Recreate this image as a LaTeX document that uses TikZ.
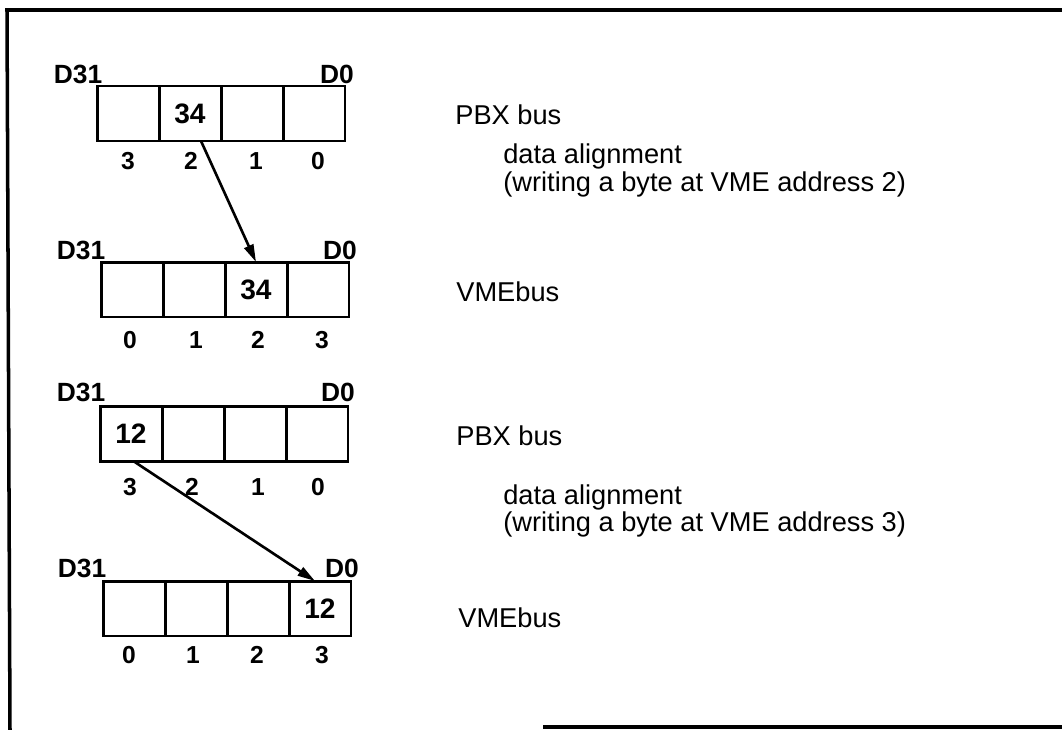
\documentclass[tikz,border=0pt]{standalone}
\usepackage{fontspec}
\setmainfont{Liberation Sans}
\usetikzlibrary{arrows.meta}

\tikzset{
  frame/.style={line width=2pt},
  cell/.style={draw, line width=1.7pt, minimum width=1.24cm, minimum height=1.1cm,
               inner sep=0pt, outer sep=0pt, font=\fontsize{16}{18}\selectfont\bfseries},
  lane/.style={font=\fontsize{14}{16}\selectfont\bfseries},
  bitname/.style={font=\fontsize{15}{17}\selectfont\bfseries},
  busname/.style={anchor=west, inner sep=0pt, font=\fontsize{15.5}{17}\selectfont},
  note/.style={anchor=west, align=left, inner sep=0pt, font=\fontsize{15.5}{14.3}\selectfont},
  move/.style={line width=1.5pt, -{Triangle[length=10pt, width=5.5pt]}}
}

\begin{document}
\begin{tikzpicture}[x=0.02cm, y=-0.02cm]
  \useasboundingbox (0,0) rectangle (1062,730);

  % Frame (open on the right, as scanned)
  \draw[frame] (1062,10) -- (7,10) -- (10,730);
  \draw[frame] (543,727) -- (1062,727);

  % First write: PBX bus
  \node[bitname] (pbxA-hi) at (78,74) {D31};
  \node[bitname] (pbxA-lo) at (337,74) {D0};
  \node[cell] (pbxA-3) at (128,113.5) {};
  \node[cell] (pbxA-2) at (190,113.5) {34};
  \node[cell] (pbxA-1) at (252,113.5) {};
  \node[cell] (pbxA-0) at (314,113.5) {};
  \node[lane] at (128,161) {3};
  \node[lane] at (191,161) {2};
  \node[lane] at (256,161) {1};
  \node[lane] at (318,161) {0};

  % First write: VMEbus
  \node[bitname] (vmeA-hi) at (81,250) {D31};
  \node[bitname] (vmeA-lo) at (340,250) {D0};
  \node[cell] (vmeA-0) at (132,289.5) {};
  \node[cell] (vmeA-1) at (194,289.5) {};
  \node[cell] (vmeA-2) at (256,289.5) {34};
  \node[cell] (vmeA-3) at (318,289.5) {};
  \node[lane] at (130,340) {0};
  \node[lane] at (196,340) {1};
  \node[lane] at (258,340) {2};
  \node[lane] at (322,340) {3};

  % Second write: PBX bus
  \node[bitname] (pbxB-hi) at (81,392) {D31};
  \node[bitname] (pbxB-lo) at (338,392) {D0};
  \node[cell] (pbxB-3) at (131,434) {12};
  \node[cell] (pbxB-2) at (193,434) {};
  \node[cell] (pbxB-1) at (255,434) {};
  \node[cell] (pbxB-0) at (317,434) {};
  \node[lane] at (130,487) {3};
  \node[lane] at (192,487) {2};
  \node[lane] at (258,487) {1};
  \node[lane] at (318,487) {0};

  % Second write: VMEbus
  \node[bitname] (vmeB-hi) at (82,568) {D31};
  \node[bitname] (vmeB-lo) at (342,568) {D0};
  \node[cell] (vmeB-0) at (134,608.5) {};
  \node[cell] (vmeB-1) at (196,608.5) {};
  \node[cell] (vmeB-2) at (258,608.5) {};
  \node[cell] (vmeB-3) at (320,608.5) {12};
  \node[lane] at (129,655) {0};
  \node[lane] at (193,655) {1};
  \node[lane] at (257,655) {2};
  \node[lane] at (322,655) {3};

  % Byte moves
  \draw[move] ([xshift=0.22cm]pbxA-2.south) -- (vmeA-2.north);
  \draw[move] ([xshift=0.06cm]pbxB-3.south) -- ([xshift=-0.1cm]vmeB-3.north);

  % Bus names and notes
  \node[busname] (busA-pbx) at (455,115) {PBX bus};
  \node[note] (noteA) at (503,170.5) {data alignment\\(writing a byte at VME address 2)};
  \node[busname] (busA-vme) at (456,292) {VMEbus};
  \node[busname] (busB-pbx) at (456,436) {PBX bus};
  \node[note] (noteB) at (503,511) {data alignment\\(writing a byte at VME address 3)};
  \node[busname] (busB-vme) at (458,618) {VMEbus};
\end{tikzpicture}
\end{document}
